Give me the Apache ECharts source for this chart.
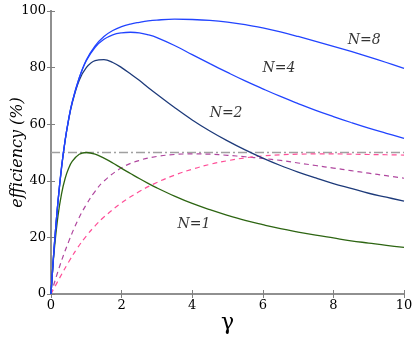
<!DOCTYPE html>
<html>
<head>
<meta charset="utf-8">
<script src="https://cdn.jsdelivr.net/npm/echarts@6/dist/echarts.min.js"></script>
<style>
  html, body { margin: 0; background: #fff; }
  #chart { width: 415px; height: 338px; }
</style>
</head>
<body>
<div id="chart"></div>
<script>
// gamma values the solid curves were read at
var gammaMain = [0, 0.05, 0.1, 0.2, 0.3, 0.4, 0.5, 0.6, 0.8, 1, 1.25, 1.5, 1.75, 2, 2.25, 2.5, 2.75, 3, 3.5, 4, 4.5, 5, 5.5, 6, 6.5, 7, 7.5, 8, 8.5, 9, 9.5, 10]
var effN1 = [0, 9.1, 16.5, 27.8, 35.5, 40.8, 44.4, 46.9, 49.4, 50, 49.4, 48, 46.3, 44.4, 42.6, 40.8, 39.1, 37.5, 34.6, 32, 29.8, 27.8, 26, 24.5, 23.1, 21.9, 20.8, 19.8, 18.8, 18, 17.2, 16.5]
var effN2 = [0, 9.5, 18.1, 32.8, 44.6, 54.1, 61.5, 67.4, 75.5, 80, 82.5, 82.8, 81.8, 80, 77.8, 75.5, 73, 70.6, 65.9, 61.5, 57.6, 54.1, 50.9, 48, 45.4, 43.1, 41, 39, 37.3, 35.6, 34.2, 32.8]
var effN4 = [0, 9.5, 18.2, 33, 45, 54.4, 61.8, 67.8, 76.3, 82.4, 87.2, 90, 91.6, 92.3, 92.5, 92.3, 91.6, 90.6, 87.8, 84.6, 81.4, 78.3, 75.3, 72.5, 69.8, 67.3, 64.9, 62.7, 60.6, 58.6, 56.8, 55]
var effN8 = [0, 9.5, 18.2, 33, 45, 54.4, 61.8, 67.8, 76.4, 82.7, 87.7, 91, 93.1, 94.5, 95.4, 96, 96.5, 96.8, 97.1, 97, 96.7, 96.1, 95.2, 94, 92.6, 91, 89.3, 87.5, 85.7, 83.8, 81.8, 79.7]

// dashed curves
var gammaDash = [0, 0.25, 0.5, 0.75, 1, 1.25, 1.5, 2, 2.5, 3, 3.5, 4, 4.5, 5, 5.5, 6, 6.5, 7, 7.5, 8, 8.5, 9, 9.5, 10]
var effDashA = [0, 10, 18.5, 25.8, 31.6, 36.3, 39.9, 44.6, 47.2, 48.6, 49.3, 49.5, 49.4, 49, 48.5, 47.9, 47.2, 46.3, 45.4, 44.5, 43.6, 42.7, 41.8, 40.9]
var effDashB = [0, 5.8, 11.3, 16.3, 20.5, 24.1, 27.2, 32.2, 36.2, 39.4, 42, 44.1, 45.8, 47.1, 48.1, 48.8, 49.2, 49.4, 49.5, 49.5, 49.4, 49.3, 49.2, 49.1]

var refLevel = 50
var curveNames = ['N=1', 'N=2', 'N=4', 'N=8']
var labelGamma = [4.05, 4.96, 6.46, 8.87]
var labelEff = [24.7, 64, 79.9, 89.8]

function pairs(xs, ys) {
  return xs.map(function (x, i) { return [x, ys[i]] })
}

function solid(data, color) {
  return {
    type: 'line', data: data, smooth: 0.4, showSymbol: false,
    lineStyle: { color: color, width: 1.3 }, z: 3
  }
}

function dashed(data, color) {
  return {
    type: 'line', data: data, smooth: 0.4, showSymbol: false,
    lineStyle: { color: color, width: 1.2, type: [5, 4] }, z: 2
  }
}

var serif = 'DejaVu Serif'
var myChart = echarts.init(document.getElementById('chart'))

var option = {
  animation: false,
  textStyle: { fontFamily: serif },
  grid: { left: 51, right: 11, top: 11, bottom: 44, outerBoundsMode: 'none', containLabel: false },
  xAxis: [
    {
      type: 'value', min: 0, max: 10, interval: 2,
      name: 'γ', nameLocation: 'middle', nameGap: 18, nameMoveOverlap: false,
      nameTextStyle: { fontFamily: serif, fontSize: 22, color: '#000' },
      axisLine: { lineStyle: { color: '#808080', width: 2 } },
      axisTick: { inside: true, length: 4, lineStyle: { color: '#808080' } },
      axisLabel: { fontFamily: serif, fontSize: 13, color: '#000', margin: 5 },
      splitLine: { show: false }
    },
    {
      type: 'value', position: 'top', min: 0, max: 10, interval: 2,
      axisLine: { show: true, lineStyle: { color: '#909090', width: 2 } },
      axisTick: { inside: true, length: 4, lineStyle: { color: '#808080' } },
      axisLabel: { show: false },
      splitLine: { show: false }
    }
  ],
  yAxis: [
    {
      type: 'value', min: 0, max: 100, interval: 20,
      name: 'efficiency (%)', nameLocation: 'middle', nameGap: 25, nameMoveOverlap: false,
      nameTextStyle: { fontFamily: serif, fontSize: 16, fontStyle: 'italic', color: '#000' },
      axisLine: { show: true, lineStyle: { color: '#000', width: 1.5 } },
      axisTick: { inside: true, length: 4, lineStyle: { color: '#808080' } },
      axisLabel: { fontFamily: serif, fontSize: 13, color: '#000', margin: 5 },
      splitLine: { show: false }
    },
    {
      type: 'value', position: 'right', min: 0, max: 100, interval: 20,
      axisLine: { show: true, lineStyle: { color: '#909090', width: 2 } },
      axisTick: { inside: true, length: 4, lineStyle: { color: '#808080' } },
      axisLabel: { show: false },
      splitLine: { show: false }
    }
  ],
  series: [
    {
      // 50% reference
      type: 'line', data: [[0, refLevel], [10, refLevel]], showSymbol: false,
      lineStyle: { color: '#a0a0a0', width: 1.3, type: [9, 3, 2, 3] }, z: 1
    },
    dashed(pairs(gammaDash, effDashA), '#b0479f'),
    dashed(pairs(gammaDash, effDashB), '#ff4f98'),
    solid(pairs(gammaMain, effN1), '#2d6512'),
    solid(pairs(gammaMain, effN2), '#1d3a7a'),
    solid(pairs(gammaMain, effN4), '#2244ff'),
    solid(pairs(gammaMain, effN8), '#2244ff'),
    {
      type: 'scatter', symbolSize: 0, z: 5,
      data: curveNames.map(function (n, i) { return { value: [labelGamma[i], labelEff[i]], name: n } }),
      label: {
        show: true, position: 'inside', formatter: '{b}',
        fontFamily: serif, fontStyle: 'italic', fontSize: 14, color: '#000'
      }
    }
  ]
}
myChart.setOption(option)
</script>
</body>
</html>
